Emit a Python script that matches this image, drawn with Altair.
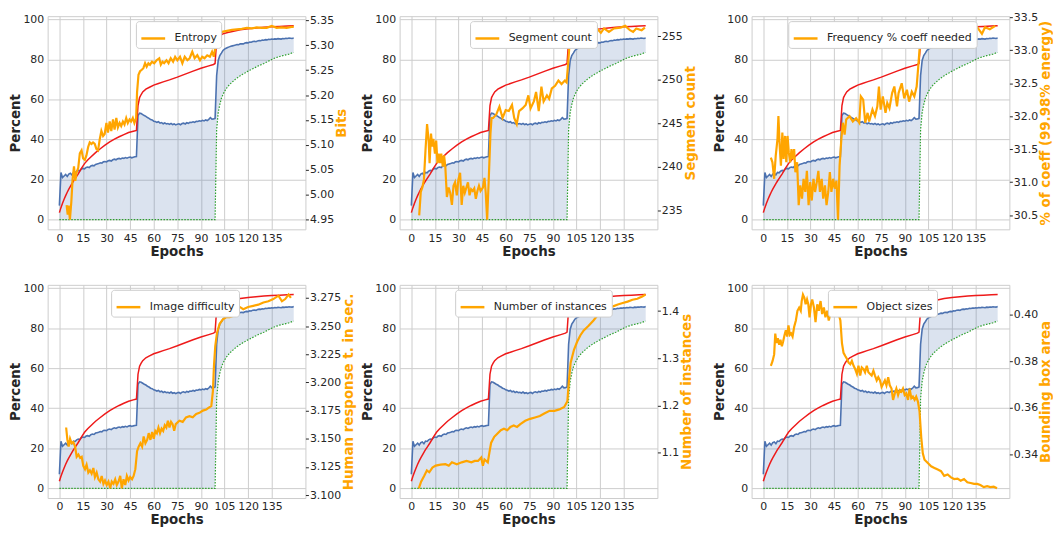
import altair as alt
import pandas as pd

# ---------------- shared training curves (left axis, percent) ----------------
X_TICKS = [0, 15, 30, 45, 60, 75, 90, 105, 120, 135]
PCT_TICKS = [0, 20, 40, 60, 80, 100]

EPOCHS = list(range(150))

RED_EP = [0, 1, 2, 3, 4, 5, 6, 7, 8, 9, 10, 12, 14, 16, 18, 20, 23, 26, 29, 32, 35, 38, 41, 44, 47, 49,
          50, 51, 52, 53, 55, 57, 60, 63, 66, 70, 75, 80, 85, 90, 95, 98, 99,
          100, 101, 102, 104, 107, 110, 115, 120, 125, 130, 135, 140, 145, 149]
RED_VAL = [3.5, 6.0, 8.2, 10.2, 12.0, 13.7, 15.2, 16.6, 18.0, 19.3, 20.5, 22.9, 25.6, 28.0, 29.8, 31.3,
           33.5, 35.4, 37.2, 38.8, 40.2, 41.4, 42.5, 43.5, 44.2, 44.6,
           57.0, 61.0, 62.5, 63.8, 65.2, 66.0, 67.2, 68.0, 68.8, 69.8, 71.2, 72.7, 74.2, 75.6, 76.8, 77.5, 78.0,
           89.5, 91.3, 92.0, 92.8, 93.5, 94.0, 94.8, 95.3, 95.7, 96.1, 96.3, 96.5, 96.7, 96.8]

BLUE_VAL = [7.0, 23.5, 21.0, 21.8, 22.6, 21.6, 22.8, 23.2, 22.3, 23.6,
            23.4, 24.2, 24.6, 24.4, 25.3, 25.6, 25.4, 26.1, 26.3, 26.0,
            26.8, 27.1, 26.9, 27.6, 27.8, 28.0, 28.4, 28.2, 28.9, 29.0,
            28.8, 29.4, 29.6, 29.3, 29.9, 30.2, 29.9, 30.4, 30.6, 30.3,
            30.8, 30.6, 31.0, 30.7, 31.1, 31.3, 30.9, 31.2, 31.4, 31.5,
            52.0, 53.2, 53.0, 52.5, 52.0, 51.6, 51.0, 50.6, 50.0, 49.8,
            49.2, 49.0, 48.6, 48.9, 48.2, 48.5, 47.9, 48.3, 47.8, 48.0,
            47.6, 48.1, 47.5, 47.8, 47.3, 47.7, 47.9, 47.4, 48.0, 48.2,
            47.8, 48.4, 48.1, 48.6, 48.5, 48.9, 48.6, 49.1, 49.0, 49.4,
            49.2, 49.6, 49.3, 49.8, 49.5, 50.1, 51.0, 50.2, 50.3, 50.6,
            72.0, 79.5, 82.0, 83.2, 84.5, 85.2, 85.6, 86.0, 86.3, 86.6,
            86.8, 87.0, 87.2, 87.5, 87.4, 87.8, 87.9, 87.8, 88.2, 88.4,
            88.3, 88.7, 88.6, 89.0, 89.1, 88.9, 89.3, 89.5, 89.4, 89.7,
            89.6, 89.9, 89.8, 90.1, 90.0, 90.2, 90.1, 90.3, 90.2, 90.4,
            90.3, 90.2, 90.5, 90.4, 90.6, 90.5, 90.7, 90.6, 90.5, 90.8]

GREEN_VAL = [0.0] * 100 + [
    45.0, 53.5, 57.5, 60.5, 62.5, 64.0, 65.3, 66.4, 67.3, 68.1,
    68.8, 69.5, 70.2, 70.8, 71.3, 71.9, 72.4, 72.9, 73.3, 73.8,
    74.2, 74.6, 75.0, 75.4, 75.8, 76.2, 76.6, 77.0, 77.3, 77.7,
    78.0, 78.4, 78.8, 79.2, 79.6, 80.0, 80.4, 80.7, 81.0, 81.2,
    81.5, 81.7, 81.9, 82.1, 82.3, 82.5, 82.7, 83.0, 83.3, 83.5]

# ---------------- orange curves (right axis) ----------------
ENT_EP = [4.6, 5.3, 5.9, 6.7, 7.6, 8.4, 9.3, 10.1, 10.9, 12.0, 13.0, 14.1, 15.1, 16.2, 17.2, 18.3, 19.3, 20.4,
          21.4, 22.5, 23.5, 24.6, 25.7, 26.7, 27.8, 28.8, 29.9, 30.9, 32.0, 33.0, 34.1, 35.1, 36.2, 37.2, 38.3,
          39.3, 40.4, 41.4, 42.5, 43.5, 44.6, 45.6, 46.7, 47.7, 48.8, 49.4, 50.3, 51.3, 52.4, 53.4, 54.5, 55.5,
          56.6, 57.6, 58.9, 60.3, 61.8, 63.5, 64.5, 65.6, 66.6, 68.1, 69.4, 70.8, 72.3, 73.6, 75.0, 76.7, 78.2,
          79.7, 81.4, 82.8, 84.5, 86.0, 87.7, 89.4, 90.8, 92.3, 94.0, 95.7, 97.1, 98.2, 99.2, 100.3, 101.3, 103.4,
          106.6, 109.8, 112.9, 116.0, 119.2, 122.4, 125.5, 128.7, 131.8, 135.0, 138.1, 141.3, 144.5, 147.6, 149.0]
ENT_VAL = [4.979, 4.960, 4.978, 4.950, 4.986, 5.031, 5.057, 5.028, 5.044, 5.054, 5.083, 5.089, 5.073, 5.070,
           5.079, 5.096, 5.105, 5.102, 5.105, 5.102, 5.092, 5.089, 5.112, 5.128, 5.118, 5.122, 5.144, 5.125,
           5.147, 5.128, 5.151, 5.131, 5.154, 5.135, 5.144, 5.138, 5.147, 5.141, 5.154, 5.144, 5.151, 5.147,
           5.154, 5.144, 5.154, 5.206, 5.241, 5.248, 5.251, 5.254, 5.264, 5.257, 5.264, 5.261, 5.267, 5.264,
           5.270, 5.274, 5.261, 5.267, 5.264, 5.270, 5.264, 5.274, 5.267, 5.277, 5.270, 5.277, 5.264, 5.277,
           5.270, 5.274, 5.287, 5.274, 5.280, 5.270, 5.277, 5.274, 5.280, 5.277, 5.287, 5.277, 5.296, 5.316,
           5.322, 5.327, 5.329, 5.331, 5.332, 5.333, 5.335, 5.334, 5.336, 5.335, 5.335, 5.339, 5.335, 5.336,
           5.335, 5.337, 5.337]
ENT_TICKS = [4.95, 5.00, 5.05, 5.10, 5.15, 5.20, 5.25, 5.30, 5.35]

SEG_EP = [5.0, 6.0, 7.0, 8.0, 9.0, 10.0, 11.0, 11.6, 12.5, 13.3, 14.0, 15.0, 15.8, 16.6, 17.4, 18.3, 19.0, 20.0,
          20.8, 21.6, 22.6, 23.7, 24.7, 25.8, 26.8, 27.8, 28.9, 29.9, 31.0, 32.0, 33.0, 34.0, 35.0, 36.0, 37.0,
          38.0, 39.0, 40.0, 41.0, 42.0, 43.0, 44.0, 45.5, 46.5, 47.3, 48.2, 49.2, 50.3, 51.0, 52.0, 54.0, 56.0,
          58.0, 60.0, 62.0, 64.0, 65.4, 67.0, 68.5, 70.6, 72.7, 74.4, 75.8, 77.9, 79.3, 81.0, 82.7, 84.1, 86.2,
          87.6, 89.3, 91.4, 93.5, 95.5, 97.6, 98.7, 99.7, 100.7, 101.8, 103.8, 106.0, 108.0, 110.0, 112.0, 115.0,
          118.0, 120.5, 122.5, 125.6, 128.8, 133.0, 136.0, 139.0, 141.0, 143.0, 146.4, 148.5]
SEG_VAL = [234.4, 237.1, 237.6, 238.5, 241.9, 244.9, 243.0, 240.4, 243.8, 242.3, 243.2, 241.5, 243.0, 240.4,
           241.5, 240.4, 241.5, 240.0, 241.3, 240.0, 236.5, 237.6, 237.0, 235.6, 237.8, 238.2, 236.7, 238.5,
           239.3, 235.6, 237.8, 237.0, 237.6, 238.2, 236.7, 237.4, 237.2, 237.5, 236.3, 237.2, 237.8, 237.2,
           237.6, 238.7, 237.0, 233.9, 238.5, 243.8, 245.6, 245.6, 246.0, 246.9, 245.6, 246.5, 246.4, 247.1,
           245.6, 244.9, 246.4, 246.7, 247.1, 248.2, 246.7, 247.5, 248.6, 246.4, 249.2, 247.5, 248.2, 247.8,
           249.0, 249.3, 249.9, 249.5, 249.9, 249.7, 251.9, 254.4, 254.7, 255.1, 254.4, 255.3, 255.6, 255.3,
           255.7, 255.9, 255.4, 255.9, 255.5, 255.9, 256.0, 256.2, 255.7, 255.5, 255.9, 255.7, 256.0]
SEG_TICKS = [235, 240, 245, 250, 255]

FRQ_EP = [4.8, 5.8, 6.9, 7.9, 9.0, 9.6, 10.4, 11.2, 12.1, 12.9, 13.8, 14.6, 15.4, 16.2, 17.1, 17.9, 18.8, 19.6,
          20.4, 21.5, 22.5, 23.5, 24.6, 25.6, 26.7, 27.7, 28.8, 29.8, 30.8, 31.9, 32.9, 34.0, 35.0, 36.0, 37.1,
          38.1, 39.2, 40.2, 41.3, 42.3, 43.3, 44.4, 45.4, 46.5, 47.5, 48.5, 49.6, 50.6, 51.7, 52.7, 54.8, 56.9,
          59.0, 61.0, 62.0, 63.5, 64.8, 66.3, 67.3, 69.4, 71.0, 72.5, 73.5, 74.6, 76.0, 77.7, 78.8, 80.2, 81.9,
          83.3, 85.0, 86.0, 88.0, 89.6, 91.3, 92.7, 94.4, 96.0, 97.5, 98.5, 99.6, 100.6, 102.7, 104.8, 106.5,
          108.0, 110.0, 112.0, 115.0, 118.0, 121.5, 124.6, 127.7, 130.8, 134.0, 136.0, 139.0, 141.0, 144.0, 147.5]
FRQ_VAL = [31.37, 31.30, 31.05, 31.40, 31.65, 32.00, 31.55, 31.25, 31.75, 31.35, 31.70, 31.30, 31.70, 31.45,
           31.30, 31.50, 31.35, 31.50, 31.15, 31.30, 30.65, 30.95, 30.75, 31.05, 30.85, 31.17, 30.65, 31.00,
           30.72, 31.05, 30.85, 31.00, 31.17, 30.85, 31.05, 30.75, 30.95, 30.65, 30.85, 31.15, 30.85, 31.05,
           30.90, 31.02, 30.43, 31.25, 31.65, 31.90, 31.72, 31.95, 32.00, 31.92, 31.97, 31.90, 32.30, 32.25,
           31.90, 32.05, 31.92, 32.10, 32.00, 32.15, 32.45, 32.10, 32.30, 32.05, 32.20, 32.12, 32.35, 32.45,
           32.15, 32.35, 32.50, 32.27, 32.40, 32.22, 32.37, 32.30, 32.45, 32.75, 33.10, 33.17, 33.12, 33.20,
           33.27, 33.15, 33.25, 33.17, 33.25, 33.30, 33.24, 33.32, 33.29, 33.30, 33.37, 33.35, 33.25, 33.35,
           33.32, 33.37]
FRQ_TICKS = [30.5, 31.0, 31.5, 32.0, 32.5, 33.0, 33.5]

IMG_EP = [4.3, 5.1, 5.9, 6.8, 7.8, 8.9, 10.0, 11.0, 12.1, 13.2, 14.2, 15.2, 16.3, 17.3, 18.4, 19.4, 20.5, 21.6,
          22.6, 23.7, 24.8, 25.9, 26.9, 28.0, 29.0, 30.1, 31.2, 32.3, 33.3, 34.4, 35.5, 36.5, 37.6, 38.7, 39.7,
          40.8, 41.9, 42.9, 44.0, 45.0, 46.2, 47.2, 48.3, 49.4, 50.4, 51.5, 52.6, 53.6, 54.7, 55.8, 56.8, 57.9,
          59.0, 60.0, 61.0, 62.0, 63.0, 64.0, 65.0, 66.0, 67.0, 68.0, 69.0, 70.0, 71.0, 72.0, 73.0, 74.0, 76.3,
          78.4, 80.5, 82.7, 84.8, 87.0, 89.1, 91.2, 93.4, 95.5, 96.6, 97.6, 98.3, 99.1, 100.2, 101.9, 104.0,
          106.2, 108.3, 110.5, 112.6, 114.7, 116.9, 120.0, 123.3, 126.5, 129.7, 132.9, 136.0, 139.3, 141.5,
          143.6, 145.7, 147.2]
IMG_VAL = [3.160, 3.149, 3.143, 3.150, 3.146, 3.147, 3.143, 3.134, 3.136, 3.133, 3.134, 3.126, 3.123, 3.127,
           3.120, 3.122, 3.119, 3.124, 3.116, 3.120, 3.114, 3.112, 3.117, 3.110, 3.113, 3.109, 3.112, 3.106,
           3.112, 3.110, 3.114, 3.109, 3.112, 3.117, 3.106, 3.114, 3.109, 3.117, 3.113, 3.116, 3.114, 3.117,
           3.123, 3.139, 3.143, 3.146, 3.143, 3.152, 3.146, 3.149, 3.155, 3.149, 3.156, 3.150, 3.157, 3.155,
           3.160, 3.155, 3.159, 3.157, 3.162, 3.160, 3.166, 3.160, 3.165, 3.163, 3.157, 3.163, 3.166, 3.165,
           3.169, 3.170, 3.169, 3.172, 3.173, 3.175, 3.176, 3.178, 3.179, 3.192, 3.215, 3.232, 3.244, 3.252,
           3.256, 3.258, 3.258, 3.259, 3.265, 3.267, 3.265, 3.267, 3.268, 3.269, 3.271, 3.272, 3.274, 3.277,
           3.272, 3.274, 3.278, 3.275]
IMG_TICKS = [3.100, 3.125, 3.150, 3.175, 3.200, 3.225, 3.250, 3.275]

INS_EP = [4.75, 6.2, 8.3, 9.9, 11.4, 13.4, 15.5, 18.6, 21.7, 23.8, 25.8, 28.9, 32.0, 35.1, 38.2, 40.3, 42.4,
          44.4, 45.5, 46.5, 48.6, 49.6, 50.7, 52.7, 54.8, 56.9, 58.9, 61.0, 63.0, 65.1, 67.2, 69.3, 72.4, 75.5,
          78.6, 81.7, 84.8, 87.9, 91.0, 94.1, 97.2, 99.2, 100.3, 101.3, 103.4, 105.4, 107.5, 109.6, 112.7, 115.8,
          118.9, 122.0, 125.0, 128.2, 131.3, 134.4, 137.5, 140.6, 143.7, 146.8, 148.9]
INS_VAL = [1.025, 1.039, 1.052, 1.063, 1.059, 1.069, 1.073, 1.075, 1.076, 1.073, 1.080, 1.076, 1.080, 1.083,
           1.080, 1.083, 1.083, 1.090, 1.073, 1.086, 1.080, 1.100, 1.121, 1.134, 1.141, 1.148, 1.151, 1.148,
           1.155, 1.158, 1.155, 1.161, 1.168, 1.172, 1.175, 1.178, 1.184, 1.189, 1.189, 1.192, 1.197, 1.209,
           1.257, 1.291, 1.318, 1.335, 1.349, 1.359, 1.369, 1.380, 1.393, 1.400, 1.407, 1.410, 1.414, 1.417,
           1.420, 1.424, 1.426, 1.431, 1.435]
INS_TICKS = [1.1, 1.2, 1.3, 1.4]

OBJ_EP = [4.8, 5.9, 6.9, 7.6, 8.4, 9.2, 10.1, 10.9, 11.8, 12.6, 13.5, 14.3, 15.2, 16.0, 16.9, 17.7, 18.6, 19.6,
          20.7, 21.7, 22.8, 23.8, 24.4, 25.2, 26.1, 26.9, 27.8, 28.6, 29.4, 30.3, 31.1, 32.2, 33.2, 34.3, 35.3,
          36.4, 37.4, 38.5, 39.5, 40.6, 41.6, 42.7, 43.7, 44.8, 46.2, 47.9, 49.0, 50.0, 51.0, 52.1, 53.2, 54.2,
          55.3, 56.3, 57.4, 58.4, 59.5, 60.5, 61.6, 62.6, 63.7, 64.7, 65.8, 66.8, 67.9, 68.9, 70.0, 71.0, 72.1,
          73.1, 74.2, 75.2, 77.3, 78.3, 79.4, 80.4, 81.5, 82.5, 83.6, 84.6, 85.7, 86.7, 87.8, 88.8, 89.9, 90.9,
          92.0, 93.0, 94.1, 95.1, 96.2, 97.2, 98.3, 99.3, 100.4, 101.4, 102.5, 104.6, 106.7, 108.8, 110.9, 113.0,
          115.0, 117.2, 119.3, 121.4, 123.5, 125.5, 127.6, 129.7, 131.8, 134.0, 136.0, 138.0, 140.2, 142.3,
          144.4, 146.5, 148.6]
OBJ_VAL = [0.3781, 0.3802, 0.3830, 0.3920, 0.3879, 0.3900, 0.3872, 0.3893, 0.3865, 0.3886, 0.3914, 0.3934,
           0.3907, 0.3955, 0.3914, 0.3920, 0.3907, 0.3948, 0.3976, 0.4018, 0.4032, 0.4018, 0.4060, 0.4088,
           0.4074, 0.4046, 0.4067, 0.4046, 0.3990, 0.4046, 0.4067, 0.4032, 0.3969, 0.4046, 0.4018, 0.4060,
           0.4004, 0.4032, 0.3990, 0.4018, 0.3976, 0.4004, 0.4025, 0.4032, 0.4025, 0.4004, 0.3976, 0.3879,
           0.3837, 0.3823, 0.3810, 0.3795, 0.3788, 0.3802, 0.3781, 0.3767, 0.3746, 0.3781, 0.3739, 0.3774,
           0.3767, 0.3753, 0.3781, 0.3753, 0.3746, 0.3739, 0.3760, 0.3739, 0.3718, 0.3732, 0.3718, 0.3690,
           0.3718, 0.3697, 0.3732, 0.3697, 0.3683, 0.3634, 0.3662, 0.3683, 0.3655, 0.3676, 0.3669, 0.3683,
           0.3655, 0.3662, 0.3634, 0.3683, 0.3641, 0.3648, 0.3634, 0.3648, 0.3627, 0.3586, 0.3474, 0.3404,
           0.3376, 0.3362, 0.3348, 0.3341, 0.3334, 0.3327, 0.3307, 0.3313, 0.3300, 0.3293, 0.3295, 0.3286,
           0.3293, 0.3279, 0.3276, 0.3272, 0.3272, 0.3267, 0.3258, 0.3262, 0.3258, 0.3260, 0.3253]
OBJ_TICKS = [0.34, 0.36, 0.38, 0.40]

PANELS = [
    ("Entropy", "Bits", ENT_EP, ENT_VAL, ENT_TICKS, ".2f", 89),
    ("Segment count", "Segment count", SEG_EP, SEG_VAL, SEG_TICKS, "d", 71),
    ("Frequency % coeff needed", "% of coeff (99.98% energy)", FRQ_EP, FRQ_VAL, FRQ_TICKS, ".1f", 37),
    ("Image difficulty", "Human response t. in sec.", IMG_EP, IMG_VAL, IMG_TICKS, ".3f", 64),
    ("Number of instances", "Number of instances", INS_EP, INS_VAL, INS_TICKS, ".1f", 56),
    ("Object sizes", "Bounding box area", OBJ_EP, OBJ_VAL, OBJ_TICKS, ".2f", 77),
]

# ---------------- styling ----------------
W, H = 260, 215
ORANGE = "#ffa500"
BLUE = "#4c72b0"
RED = "#ee1a1a"
GREEN = "#2ca02c"
TEXT = "#262626"
FONT = "DejaVu Sans"

base_df = pd.DataFrame({"epoch": EPOCHS, "blue": BLUE_VAL, "green": GREEN_VAL})
red_df = pd.DataFrame({"epoch": RED_EP, "red": RED_VAL})

x_lo, x_hi = min(EPOCHS), max(EPOCHS)
x_pad = 0.05 * (x_hi - x_lo)
X_DOMAIN = [x_lo - x_pad, x_hi + x_pad]
l_lo, l_hi = min(GREEN_VAL), max(RED_VAL)
l_pad = 0.05 * (l_hi - l_lo)
LEFT_DOMAIN = [l_lo - l_pad, l_hi + l_pad]


def xenc():
    return alt.X("epoch:Q", scale=alt.Scale(domain=X_DOMAIN, nice=False, zero=False),
                 axis=alt.Axis(values=X_TICKS, title="Epochs", grid=True, ticks=False, domain=False,
                               labelPadding=3, titlePadding=1, labelFlush=False, labelOverlap=False))


def yscale():
    return alt.Scale(domain=LEFT_DOMAIN, nice=False, zero=False)


def make_panel(name, rtitle, ep, val, ticks, fmt, lx):
    y_axis = alt.Axis(values=PCT_TICKS, title="Percent", grid=True, ticks=False, domain=False,
                      labelPadding=4, titlePadding=0, labelFlush=False, orient="left")
    area = alt.Chart(base_df).mark_area(color=BLUE, opacity=0.2).encode(
        x=xenc(),
        y=alt.Y("blue:Q", scale=yscale(), axis=y_axis),
        y2="green:Q",
    )
    green = alt.Chart(base_df).mark_line(color=GREEN, strokeWidth=1.2, strokeDash=[1.5, 1.5]).encode(
        x=xenc(),
        y=alt.Y("green:Q", scale=yscale(), axis=None),
    )
    blue = alt.Chart(base_df).mark_line(color=BLUE, strokeWidth=1.6).encode(
        x=xenc(),
        y=alt.Y("blue:Q", scale=yscale(), axis=None),
    )
    red = alt.Chart(red_df).mark_line(color=RED, strokeWidth=1.5).encode(
        x=xenc(),
        y=alt.Y("red:Q", scale=yscale(), axis=None),
    )

    odf = pd.DataFrame({"epoch": ep, "val": val, "series": [name] * len(ep)})
    o_lo, o_hi = min(val), max(val)
    o_pad = 0.05 * (o_hi - o_lo)
    orange = alt.Chart(odf).mark_line(strokeWidth=2.2).encode(
        x=xenc(),
        y=alt.Y("val:Q", scale=alt.Scale(domain=[o_lo - o_pad, o_hi + o_pad], nice=False, zero=False),
                axis=alt.Axis(orient="right", values=ticks, format=fmt, title=rtitle, titleColor=ORANGE,
                              grid=False, ticks=True, tickSize=3, tickColor=TEXT, tickWidth=1, domain=False,
                              labelPadding=1, titlePadding=1, titleAngle=270, titleBaseline="top",
                              labelFlush=False)),
        color=alt.Color("series:N", scale=alt.Scale(domain=[name], range=[ORANGE]),
                        legend=alt.Legend(title=None, orient="none", legendX=lx, legendY=5,
                                          symbolType="stroke", symbolSize=576, symbolStrokeWidth=2.5,
                                          labelFontSize=11, labelFont=FONT, labelColor=TEXT, labelOffset=8,
                                          padding=4, strokeColor="#cccccc", fillColor="white",
                                          cornerRadius=3)),
    )
    return alt.layer(area, green, blue, red, orange).resolve_scale(y="independent").properties(
        width=W, height=H)


panels = [make_panel(*p) for p in PANELS]

chart = alt.concat(*panels, columns=3, spacing={"row": 56, "column": 95}, bounds="flush").resolve_scale(
    color="independent").resolve_legend(color="independent").properties(
    padding={"left": 0, "top": 0, "right": 0, "bottom": 0}
).configure(font=FONT).configure_view(stroke="#cccccc", strokeWidth=1).configure_axis(
    labelFont=FONT, labelFontSize=11, labelColor=TEXT,
    titleFont=FONT, titleFontSize=13.5, titleFontWeight="bold", titleColor=TEXT,
    gridColor="#cccccc", gridWidth=1,
)

chart.save("out.html", embed_options={"renderer": "svg", "actions": False})
